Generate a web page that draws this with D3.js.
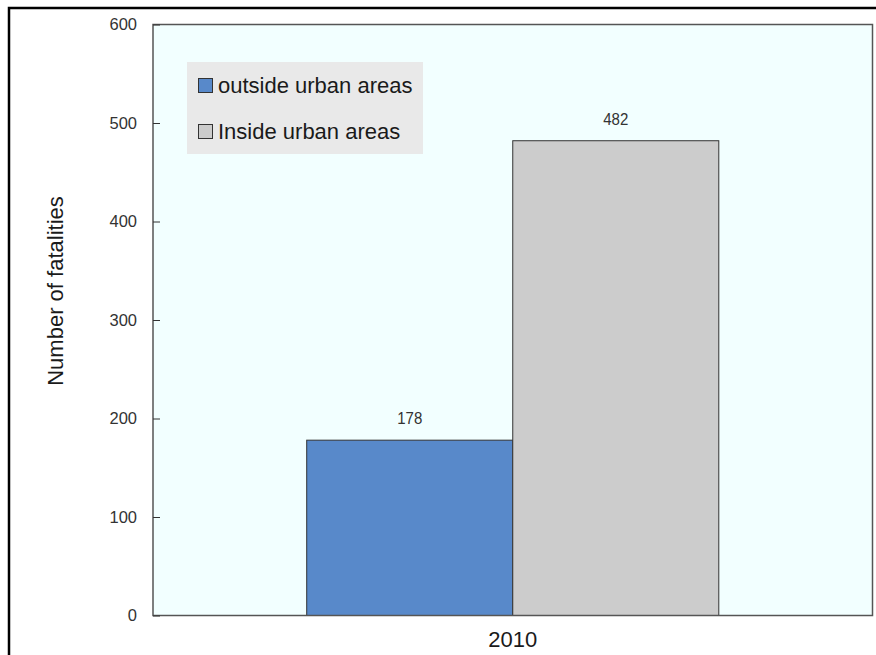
<!DOCTYPE html>
<html>
<head>
<meta charset="utf-8">
<script src="https://cdn.jsdelivr.net/npm/d3@7"></script>
<style>
  html, body { margin: 0; padding: 0; background: #fff; }
  svg { display: block; font-family: "Liberation Sans", Arial, sans-serif; }
</style>
</head>
<body>
<svg id="chart" width="876" height="655"></svg>
<script>
const years = ["2010"];
const seriesNames = ["outside urban areas", "Inside urban areas"];
const seriesValues = [[178], [482]];
const seriesColors = ["#5889CA", "#CCCCCC"];
const yTicks = [0, 100, 200, 300, 400, 500, 600];
const yTitle = "Number of fatalities";

const svg = d3.select("#chart");
const L = 153, R = 872.5, T = 24.5, B = 615.5;

// outer frame
svg.append("rect").attr("x", 9).attr("y", 8).attr("width", 900).attr("height", 700)
  .attr("fill", "none").attr("stroke", "#000").attr("stroke-width", 2.5);

// plot background
svg.append("rect").attr("x", L).attr("y", T).attr("width", R - L).attr("height", B - T)
  .attr("fill", "#F2FFFF");

const y = d3.scaleLinear().domain([0, 600]).range([B, T]);
const x0 = d3.scaleBand().domain(years).range([L, R]).paddingInner(0).paddingOuter(0.373);
const x1 = d3.scaleBand().domain(seriesNames).range([0, x0.bandwidth()]).padding(0);

// bars
years.forEach((yr, i) => {
  seriesNames.forEach((s, j) => {
    const v = seriesValues[j][i];
    const bx = x0(yr) + x1(s);
    svg.append("rect")
      .attr("x", bx).attr("y", y(v))
      .attr("width", x1.bandwidth()).attr("height", y(0) - y(v))
      .attr("fill", seriesColors[j]).attr("stroke", "#333").attr("stroke-width", 1);
    svg.append("text")
      .attr("x", bx + x1.bandwidth() / 2).attr("y", y(v) - 16)
      .attr("text-anchor", "middle").attr("font-size", 16).attr("fill", "#333")
      .attr("transform", `translate(${bx + x1.bandwidth() / 2},0) scale(0.94,1) translate(${-(bx + x1.bandwidth() / 2)},0)`)
      .text(v);
  });
});

// plot border
svg.append("rect").attr("x", L).attr("y", T).attr("width", R - L).attr("height", B - T)
  .attr("fill", "none").attr("stroke", "#555").attr("stroke-width", 1.5);

// y axis
const yAxis = d3.axisLeft(y).tickValues(yTicks).tickSize(-7).tickPadding(16);
const gy = svg.append("g").attr("transform", `translate(${L},0)`).call(yAxis);
gy.select(".domain").remove();
gy.selectAll(".tick line").attr("stroke", "#333");
gy.selectAll(".tick text").attr("font-size", 16.5).attr("fill", "#333")
  .attr("font-family", "Liberation Sans, Arial, sans-serif");

// x axis
const xAxis = d3.axisBottom(x0).tickSize(0).tickPadding(16);
const gx = svg.append("g").attr("transform", `translate(0,${B})`).call(xAxis);
gx.select(".domain").remove();
gx.selectAll(".tick text").attr("font-size", 22).attr("fill", "#1a1a1a")
  .attr("font-family", "Liberation Sans, Arial, sans-serif");

// y title
svg.append("text")
  .attr("transform", `translate(63,${(195 + 387) / 2}) rotate(-90)`)
  .attr("text-anchor", "middle").attr("font-size", 22).attr("fill", "#1a1a1a")
  .text(yTitle);

// legend
const lg = svg.append("g");
lg.append("rect").attr("x", 187).attr("y", 62).attr("width", 236).attr("height", 92)
  .attr("fill", "#E9E9E9");
seriesNames.forEach((s, j) => {
  const cy = 93 + j * 46;
  lg.append("rect").attr("x", 198.5).attr("y", cy - 14.5).attr("width", 14).attr("height", 14)
    .attr("fill", seriesColors[j]).attr("stroke", "#333").attr("stroke-width", 1);
  lg.append("text").attr("x", 218).attr("y", cy).attr("font-size", 22).attr("fill", "#1a1a1a")
    .text(s);
});
</script>
</body>
</html>
